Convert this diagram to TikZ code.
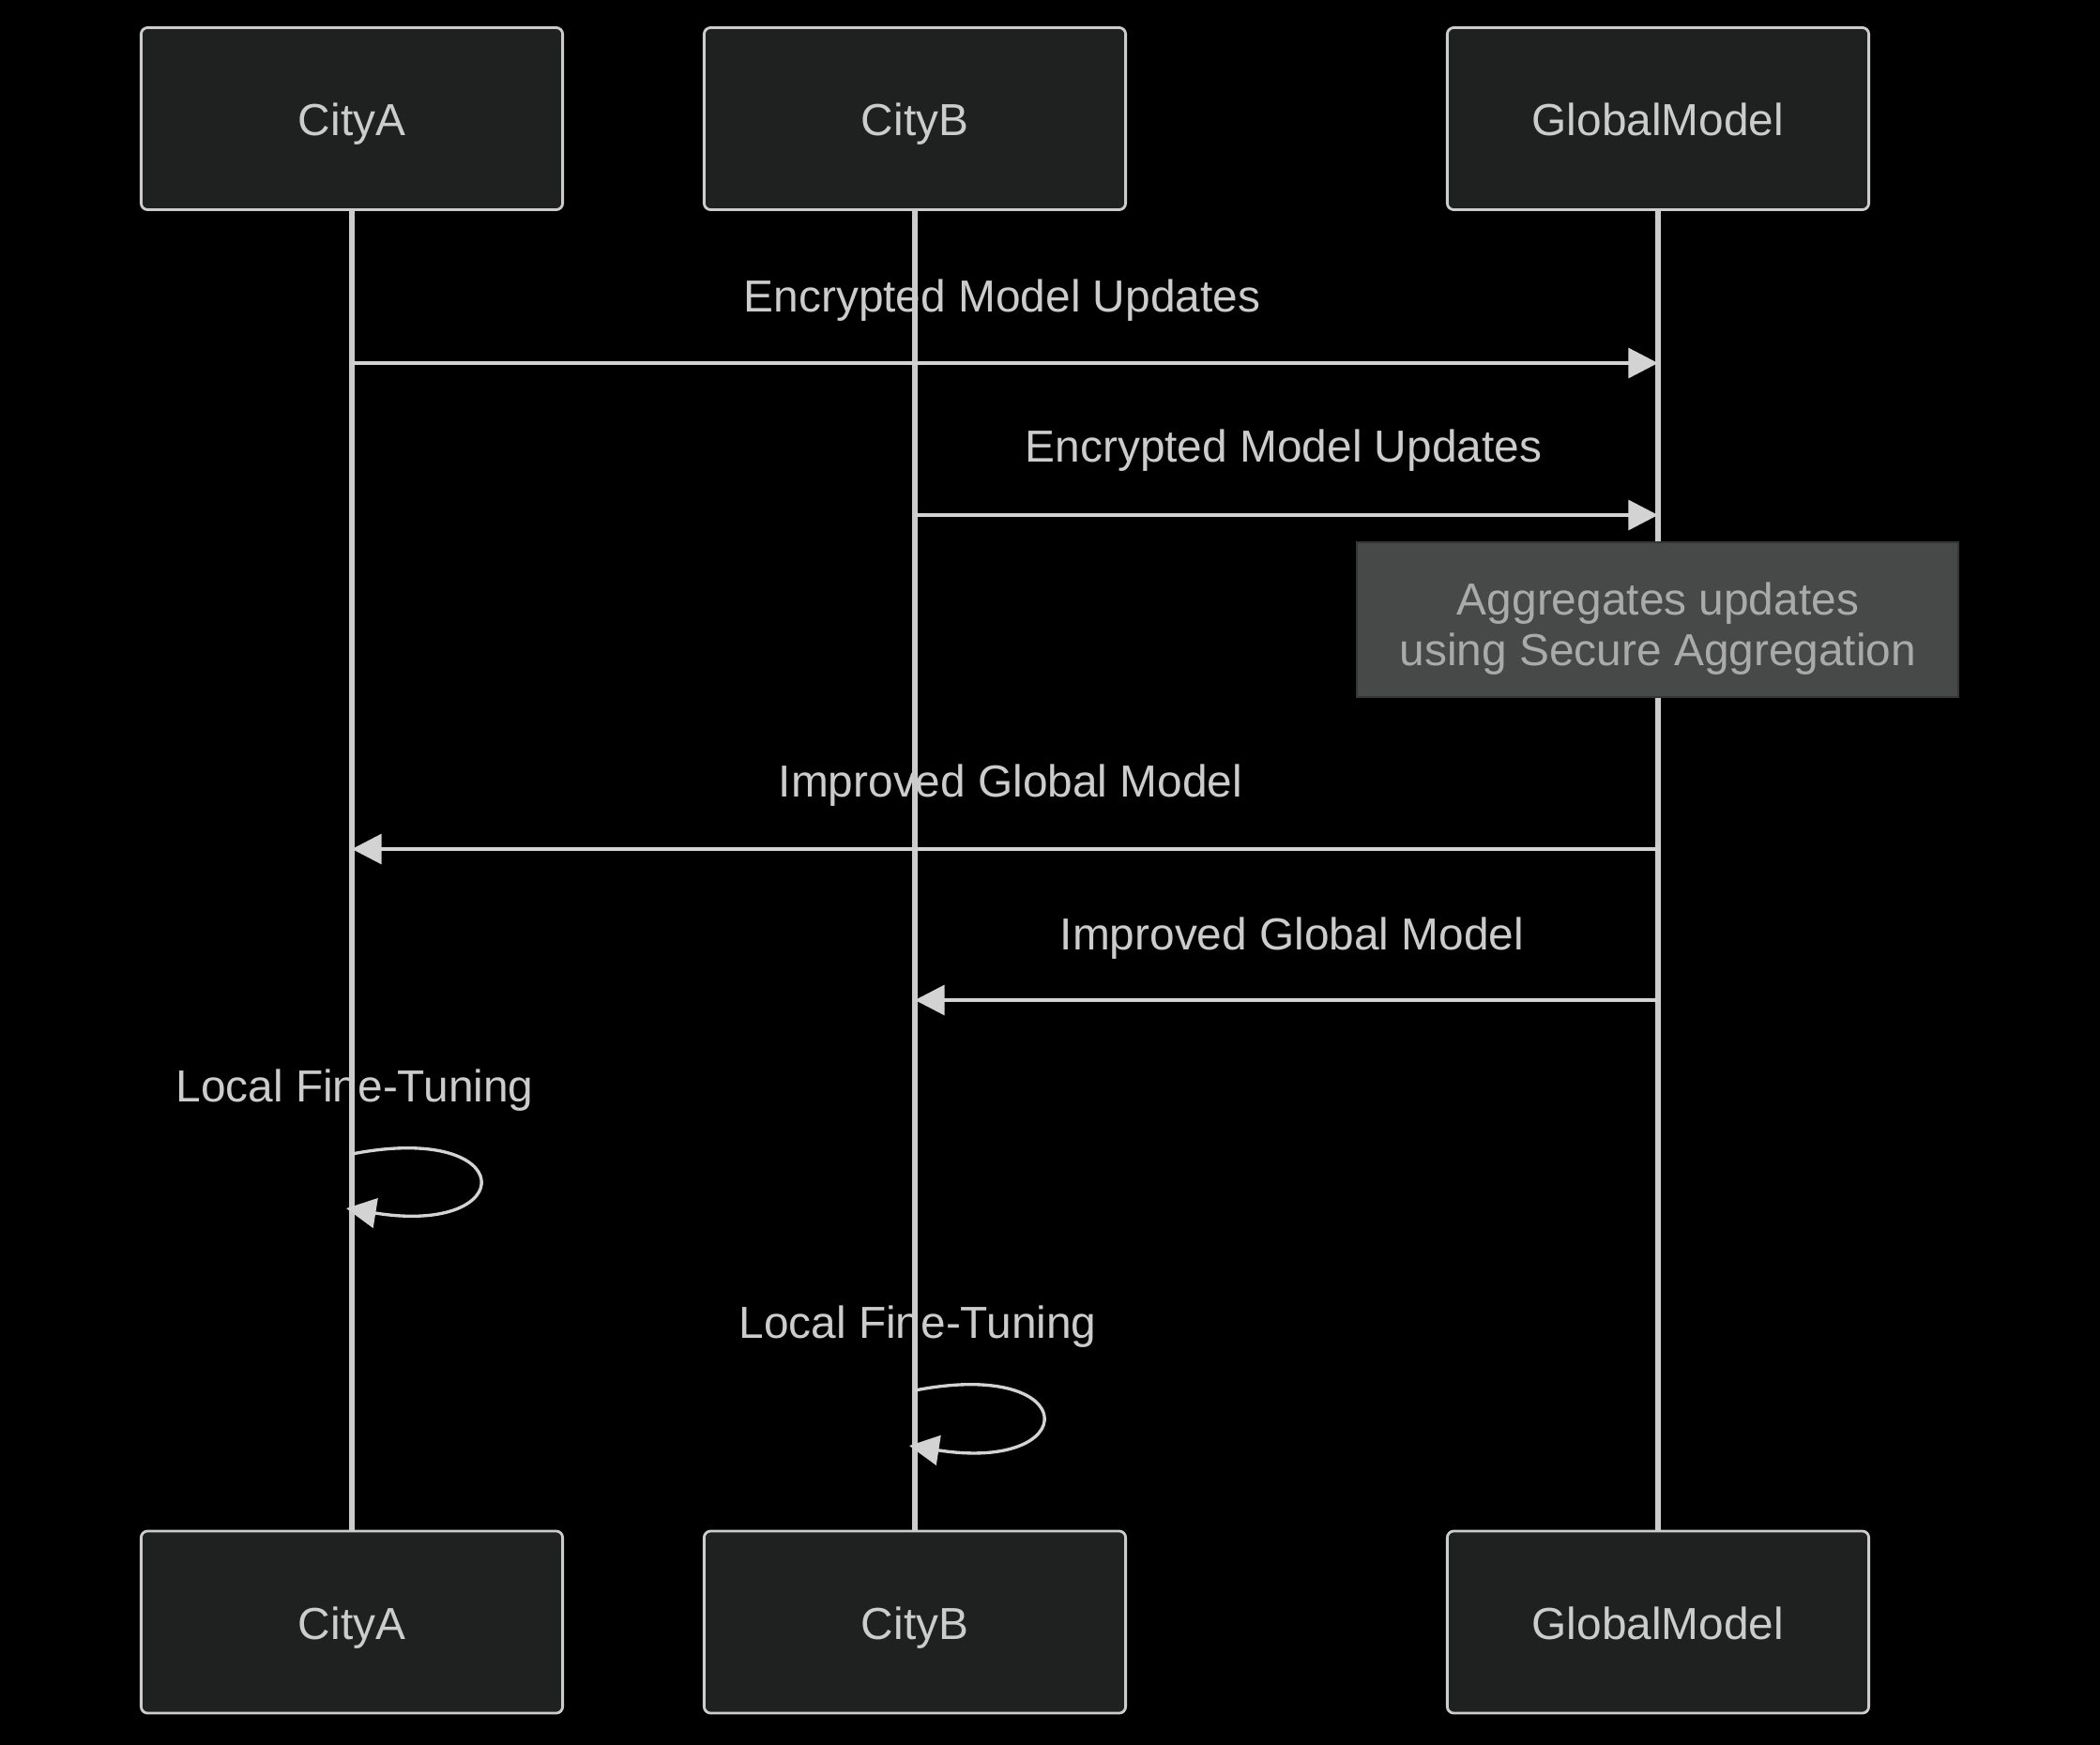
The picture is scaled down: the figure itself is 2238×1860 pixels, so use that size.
\documentclass[tikz,border=0pt]{standalone}
\usepackage{fontspec}
\setmainfont{Liberation Sans}
\usetikzlibrary{arrows.meta}
\definecolor{bg}{HTML}{000000}
\definecolor{actfill}{HTML}{1F2020}
\definecolor{actline}{HTML}{CCCCCC}
\definecolor{txt}{HTML}{CCCCCC}
\definecolor{notefill}{HTML}{474949}
\definecolor{noteline}{HTML}{353737}
\definecolor{notetxt}{HTML}{AAAAAA}
\definecolor{msg}{HTML}{D3D3D3}

\begin{document}
\begin{tikzpicture}[x=0.01cm,y=-0.01cm,>={Triangle[length=9pt,width=9pt]},
actor/.style={draw=actline,line width=0.8pt,fill=actfill,rounded corners=2pt,minimum width=4.49cm,minimum height=1.94cm,text=txt,font=\fontsize{13.6}{16}\selectfont,text height=10.5pt,text depth=0pt},
life/.style={actline,line width=1.6pt},
msgline/.style={msg,line width=1.2pt,->},
msgtext/.style={text=txt,font=\fontsize{13.6}{16}\selectfont,anchor=base,inner sep=0pt},
selfloop/.style={msg,line width=0.95pt,->},
note/.style={draw=noteline,line width=0.8pt,fill=notefill,minimum width=6.41cm,minimum height=1.66cm,text=notetxt,align=center,font=\fontsize{13.6}{15.4}\selectfont}]
\fill[bg](0,0)rectangle(2238,1860);
% participants
\node[actor](a1)at(375,126.5){CityA};
\node[actor](b1)at(975,126.5){CityB};
\node[actor](g1)at(1767,126.5){GlobalModel};
\node[actor](a2)at(375,1729){CityA};
\node[actor](b2)at(975,1729){CityB};
\node[actor](g2)at(1767,1729){GlobalModel};
% message texts
\node[msgtext](m1)at(1068,332){Encrypted Model Updates};
\node[msgtext](m2)at(1368,492){Encrypted Model Updates};
\node[msgtext](m3)at(1077,849){Improved Global Model};
\node[msgtext](m4)at(1377,1012){Improved Global Model};
\node[msgtext](m5)at(378,1174){Local Fine-Tuning};
\node[msgtext](m6)at(978,1426){Local Fine-Tuning};
% lifelines
\draw[life](a1.south)--(a2.north);
\draw[life](b1.south)--(b2.north);
\draw[life](g1.south)--(g2.north);
\draw[draw=noteline,line width=0.8pt,fill=notefill](1446,578)rectangle(2087,743);
\node[note,draw=none,fill=none](agg)at(1767,670){Aggregates updates\\using Secure Aggregation};
%%
\draw[msgline](a1.south|-0,387)--(g1.south|-0,387);
\draw[msgline](b1.south|-0,549)--(g1.south|-0,549);
\draw[msgline](g1.south|-0,905)--(a1.south|-0,905);
\draw[msgline](g1.south|-0,1066)--(b1.south|-0,1066);
\draw[selfloop](a1.south|-0,1230)..controls(555,1195)and(555,1318)..(369,1288);
\draw[selfloop](b1.south|-0,1482)..controls(1155,1447)and(1155,1570)..(969,1541);
\end{tikzpicture}
\end{document}
